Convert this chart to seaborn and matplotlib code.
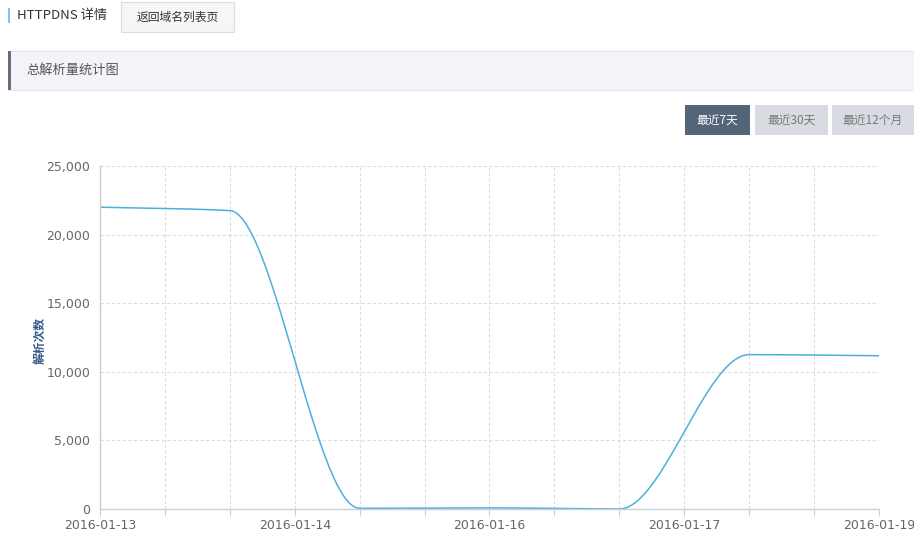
import numpy as np
import pandas as pd
import matplotlib
matplotlib.use('Agg')
import matplotlib.pyplot as plt
import seaborn as sns
from matplotlib.patches import Rectangle
from matplotlib.ticker import FuncFormatter, MultipleLocator

# ---- data ----
days = ['2016-01-13', '2016-01-14', '2016-01-15', '2016-01-16',
        '2016-01-17', '2016-01-18', '2016-01-19']
counts = [22000, 21750, 50, 80, 0, 11250, 11170]
tick_labels = ['2016-01-13', '2016-01-14', '2016-01-16', '2016-01-17', '2016-01-19']
tick_positions = [0, 1.5, 3, 4.5, 6]
range_buttons = ['最近7天', '最近30天', '最近12个月']
y_label = '解析次数'
page_title = 'HTTPDNS 详情'
back_button = '返回域名列表页'
section_title = '总解析量统计图'

sns.set_theme(style='white')
FONT = ['Noto Sans CJK SC', 'DejaVu Sans']
plt.rcParams['font.family'] = FONT


def monotone_curve(x, y, n=60):
    x = np.asarray(x, float)
    y = np.asarray(y, float)
    h = np.diff(x)
    d = np.diff(y) / h
    m = np.zeros_like(y)
    m[0] = d[0]
    m[-1] = d[-1]
    for i in range(1, len(y) - 1):
        if d[i - 1] * d[i] <= 0:
            m[i] = 0.0
        else:
            w1 = 2 * h[i] + h[i - 1]
            w2 = h[i] + 2 * h[i - 1]
            m[i] = (w1 + w2) / (w1 / d[i - 1] + w2 / d[i])
    xs, ys = [], []
    for i in range(len(x) - 1):
        t = np.linspace(0, 1, n, endpoint=(i == len(x) - 2))
        h00 = 2 * t**3 - 3 * t**2 + 1
        h10 = t**3 - 2 * t**2 + t
        h01 = -2 * t**3 + 3 * t**2
        h11 = t**3 - t**2
        xs.append(x[i] + t * h[i])
        ys.append(h00 * y[i] + h10 * h[i] * m[i] + h01 * y[i + 1] + h11 * h[i] * m[i + 1])
    return np.concatenate(xs), np.concatenate(ys)


W, H = 914, 533
fig = plt.figure(figsize=(W / 100, H / 100), dpi=100)
fig.patch.set_facecolor('white')

# background / page elements in pixel coordinates
bg = fig.add_axes([0, 0, 1, 1])
bg.set_xlim(0, W)
bg.set_ylim(H, 0)
bg.axis('off')
bg.set_zorder(0)

bg.add_patch(Rectangle((8, 8), 2, 15, color='#8fc1e6', lw=0))
bg.text(17, 15.5, page_title, fontsize=9.5, color='#333333', va='center', ha='left', family=FONT)
bg.add_patch(Rectangle((121, 2), 113, 30, facecolor='#f6f6f6', edgecolor='#dcdcdc', lw=0.8))
bg.text(177.5, 17.5, back_button, fontsize=8.5, color='#333333', va='center', ha='center', family=FONT)

bg.add_patch(Rectangle((8, 51), W - 8, 39, facecolor='#f2f4f7', edgecolor='#e3e5e8', lw=0.8))
bg.add_patch(Rectangle((8, 51), 3, 39, color='#6a6b7d', lw=0))
bg.text(26, 70.5, section_title, fontsize=9.5, color='#555555', va='center', ha='left', family=FONT)

btn_x = [(685, 750), (755, 828), (832, 914)]
for i, (lab, (x0, x1)) in enumerate(zip(range_buttons, btn_x)):
    active = i == 0
    bg.add_patch(Rectangle((x0, 105), x1 - x0, 30,
                           color='#546479' if active else '#d8dce2', lw=0))
    bg.text((x0 + x1) / 2, 120.5, lab, fontsize=8.5,
            color='white' if active else '#777777', va='center', ha='center', family=FONT)

bg.text(40, 340, y_label, fontsize=8.5, color='#34598a', fontweight='bold',
        rotation=90, va='center', ha='center', family=FONT)

# chart axes
L, R, T, B = 100, 879, 166, 509
ax = fig.add_axes([L / W, (H - B) / H, (R - L) / W, (B - T) / H])
ax.set_zorder(1)
ax.patch.set_alpha(0)

xs, ys = monotone_curve(range(len(days)), counts)
df = pd.DataFrame({'x': xs, 'y': ys})
sns.lineplot(data=df, x='x', y='y', ax=ax, color='#4cb0dc', lw=1.1, sort=False)

ax.set_xlim(0, len(days) - 1)
ax.set_ylim(0, 25000)
ax.set_xlabel('')
ax.set_ylabel('')
ax.yaxis.set_major_locator(MultipleLocator(5000))
ax.yaxis.set_major_formatter(FuncFormatter(lambda v, p: f'{int(v):,}'))
ax.set_xticks(np.arange(0, len(days) - 1 + 0.01, 0.5))
lbl_map = dict(zip(tick_positions, tick_labels))
ax.set_xticklabels([lbl_map.get(float(t), '') for t in np.arange(0, len(days) - 1 + 0.01, 0.5)])

ax.grid(True, which='major', axis='both', color='#dddddd', ls=(0, (3, 2)), lw=0.8)
for s in ['top', 'right']:
    ax.spines[s].set_visible(False)
ax.spines['left'].set_color('#cccccc')
ax.spines['bottom'].set_color('#c8d0dc')
ax.spines['left'].set_linewidth(1)
ax.spines['bottom'].set_linewidth(1)
ax.tick_params(axis='y', length=0, pad=7, labelsize=9, labelcolor='#666666')
ax.tick_params(axis='x', length=5, width=0.8, color='#c8d0dc', pad=2,
               labelsize=9, labelcolor='#666666', bottom=True, direction='out')
for t in ax.get_xticklabels() + ax.get_yticklabels():
    t.set_family(['DejaVu Sans'])

fig.savefig('out.png', dpi=100)
